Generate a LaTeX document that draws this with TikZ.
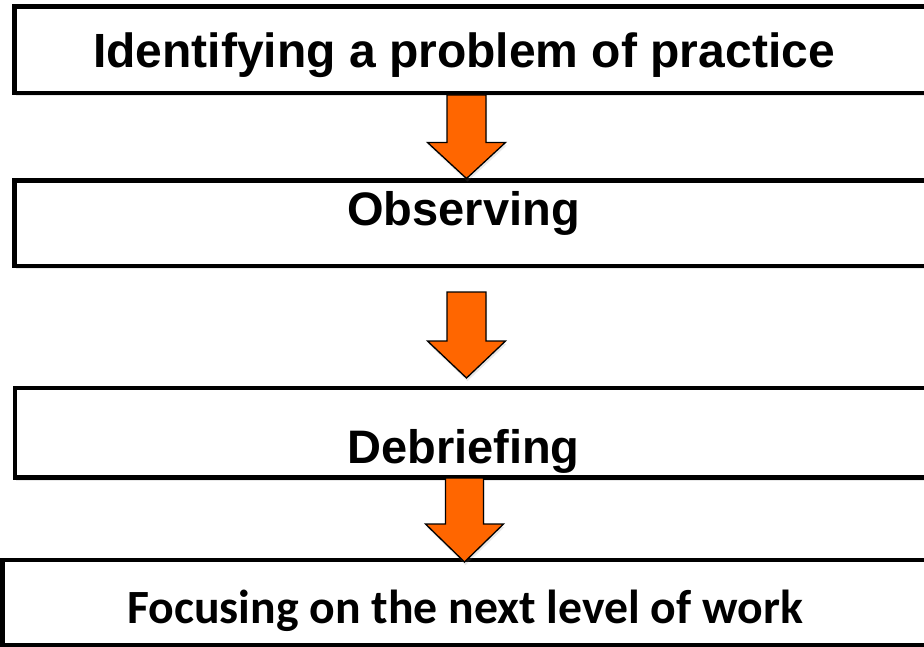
\documentclass[tikz,border=0pt]{standalone}
\usepackage{fontspec}
\setmainfont{Liberation Sans}
\newfontfamily\carlito{Carlito}
\usetikzlibrary{calc,shadows}
\definecolor{arroworange}{HTML}{FF6600}
\tikzset{
  box/.style={draw=black, line width=4.5pt, fill=white, rectangle, outer sep=0pt, inner sep=0pt, anchor=north west,
    drop shadow={opacity=0.18, shadow xshift=1pt, shadow yshift=-3pt}},
  boxtext/.style={anchor=base, inner sep=0pt, font=\bfseries},
  barrow/.style={draw=black, line width=1.3pt, fill=arroworange, line join=miter,
    drop shadow={opacity=0.18, shadow xshift=1pt, shadow yshift=-3pt}}
}
% #1 centre x, #2 top point, #3 tip point, #4 half shaft width, #5 half head width, #6 head length
\newcommand{\blockarr}[6]{%
  \path[barrow] let \p1=#2, \p2=#3 in
    (#1pt-#4pt,\y1) -- (#1pt+#4pt,\y1) -- (#1pt+#4pt,\y2+#6pt) -- (#1pt+#5pt,\y2+#6pt)
    -- (#1pt,\y2) -- (#1pt-#5pt,\y2+#6pt) -- (#1pt-#4pt,\y2+#6pt) -- cycle;}
\begin{document}
\begin{tikzpicture}[x=1pt,y=-1pt]
\useasboundingbox (0,0) rectangle (924,647);
\fill[white] (0,0) rectangle (924,647);
\clip (0,0) rectangle (924,647);
% boxes
\node[box, minimum width=920.5pt, minimum height=86.5pt] (b1) at (14.5,6.5) {};
\node[box, minimum width=920.5pt, minimum height=85.5pt] (b2) at (14.5,180.5) {};
\node[box, minimum width=920pt, minimum height=89.5pt] (b3) at (15,388) {};
\node[box, minimum width=932.5pt, minimum height=85pt] (b4) at (2.5,560) {};
% texts
\node[boxtext, font=\bfseries\fontsize{48}{50}\selectfont] (t1) at (464,67.5) {Identifying a problem of practice};
\node[boxtext, font=\bfseries\fontsize{47}{50}\selectfont] (t2) at (463.5,225.5) {Observing};
\node[boxtext, font=\bfseries\fontsize{47}{50}\selectfont] (t3) at (463.5,463) {Debriefing};
\node[boxtext, font=\carlito\bfseries\fontsize{47.7}{50}\selectfont] (t4) at (465,623) {Focusing on the next level of work};
% block arrows
\blockarr{466.5}{([yshift=-2pt]b1.south)}{([yshift=2pt]b2.north)}{19.5}{39}{36}
\blockarr{466.5}{([yshift=-26pt]b2.south)}{([yshift=10pt]b3.north)}{19.5}{39}{37}
\blockarr{464.5}{([yshift=-0.5pt]b3.south)}{([yshift=-2pt]b4.north)}{19}{39}{38}
\end{tikzpicture}
\end{document}
